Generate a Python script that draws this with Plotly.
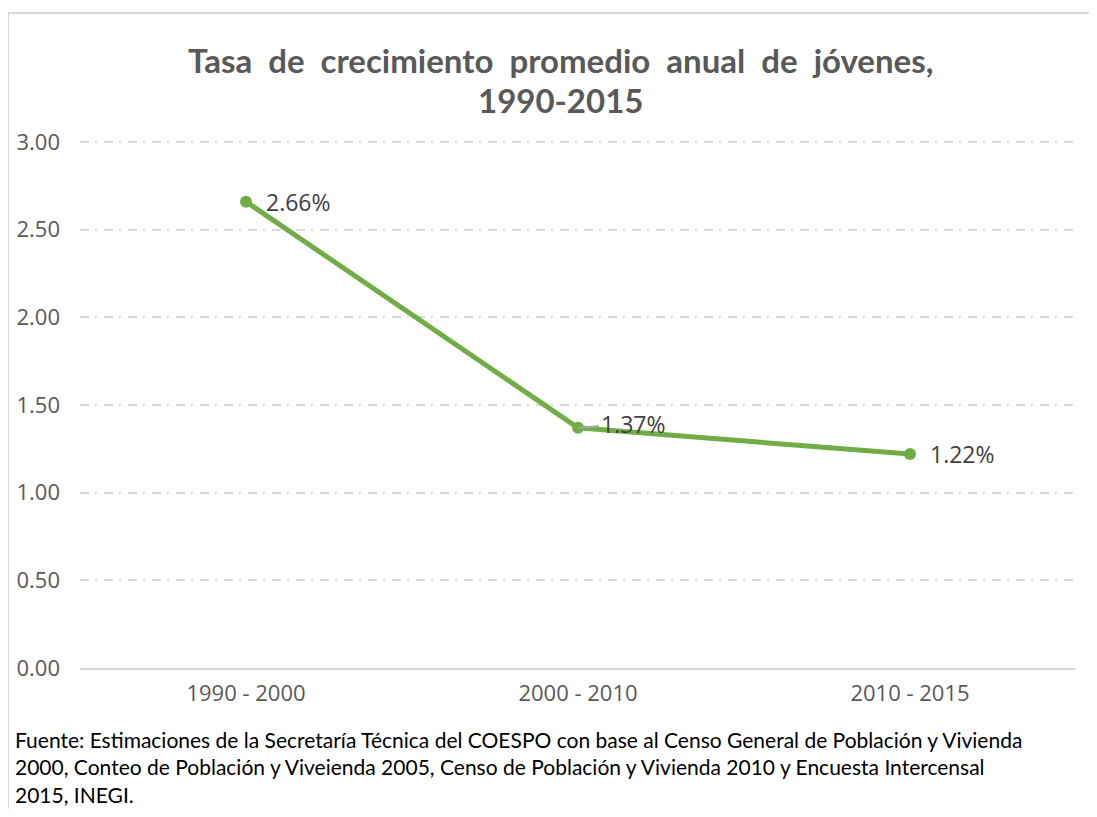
import plotly.graph_objects as go

periodos = ['1990 - 2000', '2000 - 2010', '2010 - 2015']
tasas = [2.66, 1.37, 1.22]
etiquetas = ['2.66%', '1.37%', '1.22%']
y_ticks = [0, 0.5, 1.0, 1.5, 2.0, 2.5, 3.0]

titulo = ['Tasa de crecimiento promedio anual de jóvenes,', '1990-2015']
fuente = ['Fuente: Estimaciones de la Secretaría Técnica del COESPO con base al Censo General de Población y Vivienda',
          '2000, Conteo de Población y Viveienda 2005, Censo de Población y Vivienda 2010 y Encuesta Intercensal',
          '2015, INEGI.']

# the page body has an 8px margin, so the figure is shifted by 8px
OFF = 8
W, H = 1097 - 2 * OFF, 817 - 2 * OFF
L, T = 80 - OFF, 141 - OFF
R, B = W - (1076 - OFF), H - (668 - OFF)
pw, ph = W - L - R, H - T - B


def px_x(x):
    return (x - OFF - L) / pw


def px_y(y):
    return (668 - y) / ph


fig = go.Figure()
fig.add_trace(go.Scatter(
    x=periodos, y=tasas, mode='lines+markers',
    line=dict(color='#70AD47', width=5),
    marker=dict(color='#70AD47', size=12),
    cliponaxis=False, showlegend=False,
))

# data labels
for i, (p, v, txt) in enumerate(zip(periodos, tasas, etiquetas)):
    lab_font = dict(family='Open Sans', size=23, color='#404040')
    if i == 1:
        # this one sits on the line with a small leader line
        fig.add_annotation(x=p, y=v, text=txt, showarrow=True, arrowhead=0,
                           arrowcolor='#a6a6a6', arrowwidth=2, ax=55, ay=-4,
                           font=lab_font)
    else:
        fig.add_annotation(x=p, y=v, text=txt, showarrow=False, xanchor='left',
                           xshift=18, font=lab_font)

fig.update_layout(
    width=W, height=H,
    margin=dict(l=L, r=R, t=T, b=B, autoexpand=False),
    paper_bgcolor='white', plot_bgcolor='white',
    font=dict(family='Open Sans', color='#595959'),
)
fig.update_yaxes(
    range=[0, 3.006], tickvals=y_ticks, tickformat='.2f',
    showgrid=True, gridcolor='#d9d9d9', gridwidth=1.5, griddash='9px,6px,2px,7px',
    zeroline=False, showline=False, ticks='', ticklabelstandoff=19,
    tickfont=dict(family='Open Sans', size=22, color='#595959'),
)
fig.update_xaxes(
    range=[-0.5, 2.5],
    showgrid=False, showline=True, linecolor='#d9d9d9', linewidth=2, ticks='',
    tickfont=dict(family='Open Sans', size=22, color='#595959'), ticklabelstandoff=5,
)

for i, linea in enumerate(titulo):
    fig.add_annotation(
        text=linea.replace(' ', ' \u00a0'), xref='paper', yref='paper',
        x=px_x(560), y=px_y(60 + 40 * i), xanchor='center', yanchor='middle',
        showarrow=False, font=dict(family='Lato', size=33, color='#595959', weight='bold'),
    )

fig.add_annotation(
    text='<br>'.join(fuente), xref='paper', yref='paper',
    x=px_x(13), y=px_y(725), xanchor='left', yanchor='top', align='left',
    showarrow=False, font=dict(family='Lato', size=21, color='#000000'),
)

fig.add_shape(type='rect', xref='paper', yref='paper',
              x0=px_x(8), x1=px_x(1120), y0=px_y(840), y1=px_y(13),
              line=dict(color='#d9d9d9', width=2), fillcolor='rgba(0,0,0,0)', layer='below')

fig.write_html('out.html')
